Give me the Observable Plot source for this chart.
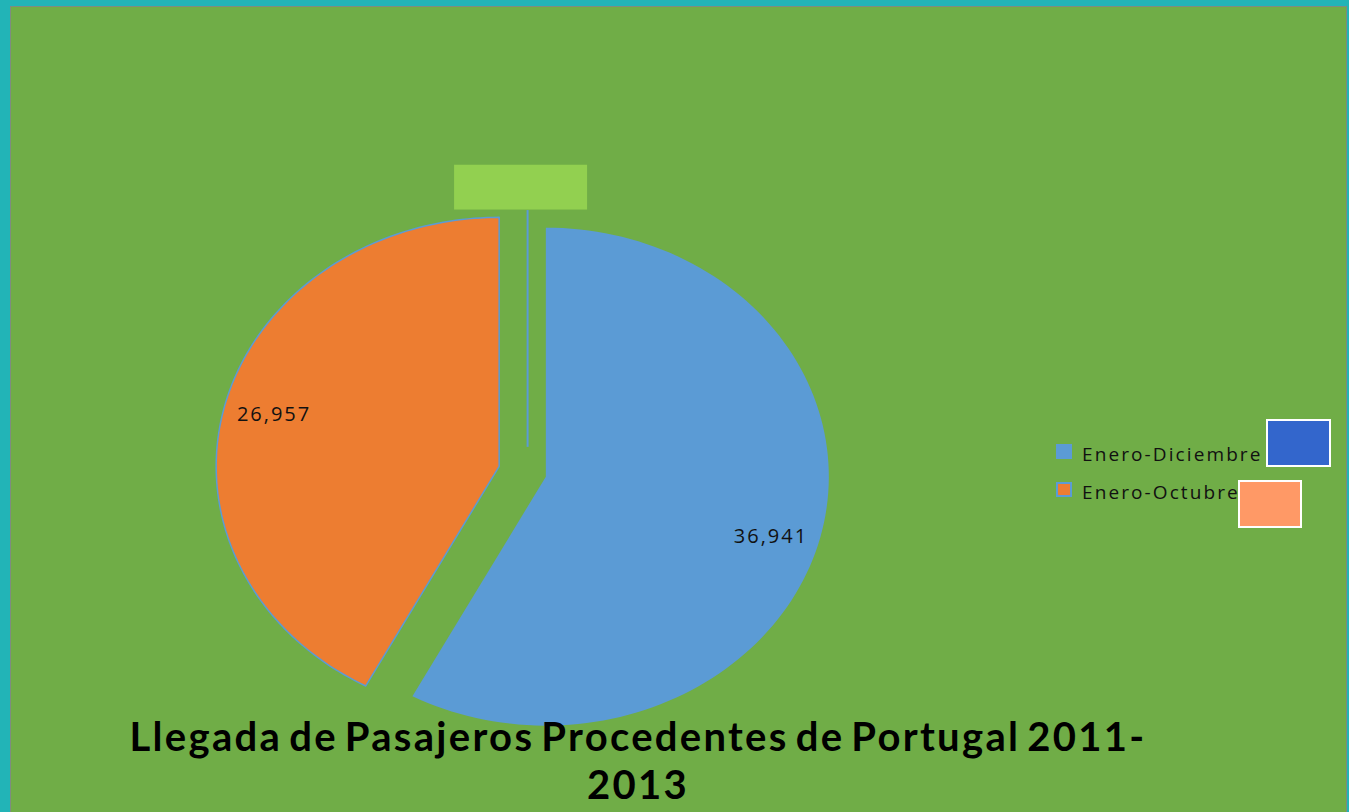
<!DOCTYPE html>
<html>
<head>
<meta charset="utf-8">
<script src="https://cdn.jsdelivr.net/npm/d3@7"></script>
<script src="https://cdn.jsdelivr.net/npm/@observablehq/plot@0.6"></script>
<style>
html,body{margin:0;padding:0;width:1349px;height:812px;overflow:hidden;background:#22B4B7;}
#frame{position:absolute;left:10px;top:6px;width:1335px;height:830px;background:#70AD47;border:1px solid #7E8C80;}
#chart{position:absolute;left:0;top:0;}
#chart svg{background:transparent;}
#chart g[aria-label="text"] text{letter-spacing:2px;}
.leg{position:absolute;font-family:"Open Sans",sans-serif;font-size:19px;line-height:19px;letter-spacing:2.1px;color:#111;white-space:nowrap;}
.sw{position:absolute;width:16px;height:15px;box-sizing:border-box;}
.box{position:absolute;box-sizing:border-box;border:2px solid #fff;}
#title{position:absolute;left:0;top:712px;width:1276px;text-align:center;font-family:Lato,sans-serif;font-weight:bold;font-size:40px;line-height:48px;letter-spacing:2.3px;word-spacing:-5px;color:#000;}
</style>
</head>
<body>
<div id="frame"></div>
<div id="chart"></div>
<div id="legend"></div>
<div id="title"></div>
<script>
// ---- data ----
const categories = ["Enero-Diciembre", "Enero-Octubre"];
const values = [36941, 26957];
const valueLabels = ["36,941", "26,957"];
const colors = ["#5B9BD5", "#ED7D31"];
const strokes = ["none", "#5B9BD5"];
const titleText = "Llegada de Pasajeros Procedentes de Portugal 2011-<br>2013";

// ---- layout (unit-radius pie; x/y scales give the elliptical look) ----
const W = 1349, H = 812;
const cxPx = 522, cyPx = 471, rxPx = 283, ryPx = 249;
const explode = 0.085;
const labelDy = [10, -2];

const arcs = d3.pie().sort(null).startAngle(0).endAngle(2 * Math.PI)(values);
const slices = [];
const labelRows = [];
arcs.forEach((a, i) => {
  const mid = (a.startAngle + a.endAngle) / 2;
  const ox = explode * Math.sin(mid), oy = explode * Math.cos(mid);
  const pts = [{x: ox, y: oy, k: i}];
  const n = 120;
  for (let j = 0; j <= n; j++) {
    const t = a.startAngle + (a.endAngle - a.startAngle) * j / n;
    pts.push({x: ox + Math.sin(t), y: oy + Math.cos(t), k: i});
  }
  slices.push(pts);
  labelRows.push({x: ox + 0.82 * Math.sin(mid), y: oy + 0.82 * Math.cos(mid), text: valueLabels[i], dy: labelDy[i]});
});

// empty data-label box with its leader line (at the top of the pie, angle 0)
const boxRow = [{x1: -0.24, x2: 0.23, y1: 1.05, y2: 1.23}];
const leader = [{x: 0.018, y1: 0.097, y2: 1.048}];

const marks = [];
slices.forEach((pts, i) => {
  marks.push(Plot.line(pts, {x: "x", y: "y", curve: "linear-closed", fill: colors[i],
    stroke: strokes[i], strokeWidth: 1.5}));
});
marks.push(Plot.rect(boxRow, {x1: "x1", x2: "x2", y1: "y1", y2: "y2", fill: "#92D050"}));
marks.push(Plot.ruleX(leader, {x: "x", y1: "y1", y2: "y2", stroke: "#5B9BD5", strokeWidth: 2}));
labelRows.forEach(r => {
  marks.push(Plot.text([r], {x: "x", y: "y", text: "text", fontSize: 20, fill: "#111",
    fontFamily: "Open Sans", dy: r.dy}));
});

const chart = Plot.plot({
  width: W, height: H,
  marginTop: 0, marginRight: 0, marginBottom: 0, marginLeft: 0,
  x: {domain: [-cxPx / rxPx, (W - cxPx) / rxPx], axis: null},
  y: {domain: [-(H - cyPx) / ryPx, cyPx / ryPx], axis: null},
  style: {background: "transparent"},
  marks
});
document.getElementById("chart").appendChild(chart);

// ---- legend ----
const legend = document.getElementById("legend");
const legTops = [445, 483];
categories.forEach((c, i) => {
  const sw = document.createElement("div");
  sw.className = "sw";
  sw.style.left = "1056px";
  sw.style.top = (legTops[i] - 1) + "px";
  sw.style.background = colors[i];
  if (strokes[i] !== "none") sw.style.border = "2px solid " + strokes[i];
  legend.appendChild(sw);
  const t = document.createElement("div");
  t.className = "leg";
  t.style.left = "1082px";
  t.style.top = legTops[i] + "px";
  t.textContent = c;
  legend.appendChild(t);
});
// decorative boxes beside the legend
const b1 = document.createElement("div");
b1.className = "box";
Object.assign(b1.style, {left: "1266px", top: "419px", width: "65px", height: "48px", background: "#3366CC"});
legend.appendChild(b1);
const b2 = document.createElement("div");
b2.className = "box";
Object.assign(b2.style, {left: "1238px", top: "480px", width: "64px", height: "48px", background: "#FF9966"});
legend.appendChild(b2);

document.getElementById("title").innerHTML = titleText;
</script>
</body>
</html>
